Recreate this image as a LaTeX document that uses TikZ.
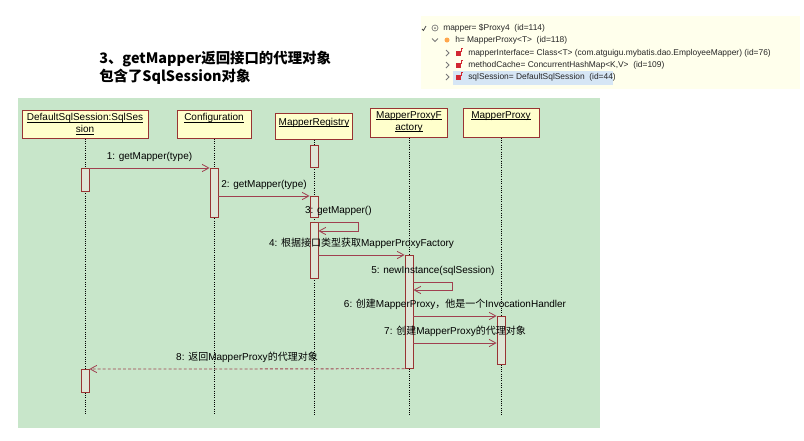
\documentclass[tikz,border=0pt]{standalone}
\usepackage{fontspec}
\setmainfont{Liberation Sans}
\newfontfamily\cjk{Noto Sans CJK SC}
\usetikzlibrary{positioning}
\usetikzlibrary{arrows.meta, calc}

\definecolor{panelgreen}{RGB}{200,230,202}
\definecolor{boxfill}{RGB}{255,255,204}
\definecolor{boxline}{RGB}{153,51,51}
\definecolor{msgline}{RGB}{160,64,80}
\definecolor{actfill}{RGB}{222,230,214}
\definecolor{debugbg}{RGB}{255,255,236}
\definecolor{selrow}{RGB}{214,230,245}
\definecolor{fieldred}{RGB}{210,40,50}
\definecolor{chevgray}{RGB}{120,120,120}

\newcommand{\zh}[1]{{\cjk #1}}
% underline set just under the baseline
\newcommand{\hdul}[1]{\setbox0\hbox{#1}\leavevmode\rlap{\rule[-1.1pt]{\wd0}{0.45pt}}\box0}
\def\pxl{0.75pt}

\begin{document}
\begin{tikzpicture}
  [
    x=0.75pt, y=-0.75pt,
    >={Straight Barb[length=5pt,width=5.5pt]},
    head/.style     = {draw=boxline, fill=boxfill, line width=0.7pt, anchor=north, inner sep=0pt},
    headtext/.style = {anchor=north, yshift=-2.5pt, inner sep=0pt, align=center},
    life/.style     = {densely dotted, line width=0.7pt},
    act/.style      = {draw=boxline, fill=actfill, line width=0.6pt, anchor=north, minimum width=8*\pxl, inner sep=0pt},
    msg/.style      = {->, draw=msgline, line width=0.6pt},
    ret/.style      = {msg, dashed, dash pattern=on 2.2pt off 1.6pt},
    lbl/.style      = {above=4.5pt, inner sep=0pt, text=black},
    dbg/.style      = {anchor=west, inner sep=0pt, font=\fontsize{6.3}{7}\selectfont, text=black!85},
    ttl/.style      = {anchor=base west, inner sep=0pt, font=\cjk\bfseries\fontsize{10.8}{13}\selectfont},
  ]

  \tikzstyle{every node}=[font=\fontsize{7.5}{9}\selectfont]

  \fill[white] (0,0) rectangle (804,440);
  \useasboundingbox (0,0) rectangle (804,440);

  % the lifelines
  \def\xsess{85}
  \def\xconf{214}
  \def\xreg{314}
  \def\xfac{409}
  \def\xprox{501}

  % title
  \node (title1) [ttl] at (99,63) {3、getMapper返回接口的代理对象};
  \node (title2) [ttl] at (99,81) {包含了SqlSession对象};

  % debugger view
  \fill[debugbg] (421,16) rectangle (800,89);
  \fill[selrow] (453,71) rectangle (613,85);

  \draw[black!70, line width=0.6pt] (422,29) -- (423.5,30.5) -- (426,26);
  \draw[chevgray, line width=0.5pt] (435,28) circle (3);
  \fill[chevgray] (435,28) circle (1);
  \draw[chevgray, line width=0.6pt] (432,38.5) -- (435,41.5) -- (438,38.5);
  \fill[orange!70] (447,40) circle (2.5);
  \foreach \y in {53,65,77}
  {
    \draw[chevgray, line width=0.6pt] (446,\y-3) -- (449,\y) -- (446,\y+3);
    \fill[fieldred] (456,\y-2) rectangle (461,\y+3);
    \draw[fieldred, line width=0.4pt] (461,\y-1) -- (461,\y-5) -- (463,\y-5);
  }

  \node (row1) [dbg] at (443,28) {mapper= \$Proxy4\ \ (id=114)};
  \node (row2) [dbg] at (455,40) {h= MapperProxy<T>\ \ (id=118)};
  \node (row3) [dbg] at (468,53) {mapperInterface= Class<T> (com.atguigu.mybatis.dao.EmployeeMapper) (id=76)};
  \node (row4) [dbg] at (468,65) {methodCache= ConcurrentHashMap<K,V>\ \ (id=109)};
  \node (row5) [dbg] at (468,77) {sqlSession= DefaultSqlSession\ \ (id=44)};

  % the sequence diagram
  \fill[panelgreen] (18,98) rectangle (600,428);

  \node (sess) [head, minimum width=126*\pxl, minimum height=28*\pxl,
    label={[headtext]north:\hdul{DefaultSqlSession:SqlSes}\\\hdul{sion}}] at (\xsess,110) {};
  \node (conf) [head, minimum width=74*\pxl, minimum height=28*\pxl,
    label={[headtext]north:\hdul{Configuration}}] at (\xconf,110) {};
  \node (reg) [head, minimum width=77*\pxl, minimum height=26*\pxl,
    label={[headtext, yshift=-1pt]north:\hdul{MapperRegistry}}] at (\xreg,113) {};
  \node (fac) [head, minimum width=77*\pxl, minimum height=29*\pxl,
    label={[headtext]north:\hdul{MapperProxyF}\\\hdul{actory}}] at (\xfac,108) {};
  \node (prox) [head, minimum width=76*\pxl, minimum height=29*\pxl,
    label={[headtext]north:\hdul{MapperProxy}}] at (\xprox,108) {};

  \coordinate (bottom) at (0,415);
  \foreach \h in {sess,conf,reg,fac,prox}
    \draw[life] (\h.south) -- (\h |- bottom);

  % activations
  \node (sessA) [act, minimum height=23*\pxl] at (\xsess,168) {};
  \node (sessB) [act, minimum height=23*\pxl] at (\xsess,369) {};
  \node (confA) [act, minimum height=49*\pxl] at (\xconf,168) {};
  \node (regA) [act, minimum height=22*\pxl] at (\xreg,145) {};
  \node (regB) [act, minimum height=21*\pxl] at (\xreg,196) {};
  \node (regC) [act, minimum height=56*\pxl] at (\xreg,222) {};
  \node (facA) [act, minimum height=113*\pxl] at (\xfac,255) {};
  \node (proxA) [act, minimum height=48*\pxl] at (\xprox,316) {};

  % messages
  \draw[msg] (sessA.north east) -- node[lbl] {1: getMapper(type)} (confA.north west);
  \draw[msg] (confA.east |- regB.north) -- node[lbl] {2: getMapper(type)} (regB.north west);

  \coordinate (loop3) at ($(regC.north east)+(40,9)$);
  \draw[msg] (regC.north east) -| node[lbl, pos=0.25] {3: getMapper()} (loop3) -- (regC.east |- loop3);

  \draw[msg] (regC.east |- facA.north) -- node[lbl] {4: \zh{根据接口类型获取}MapperProxyFactory} (facA.north west);

  \coordinate (loop5a) at ($(facA.north east)+(0,27)$);
  \coordinate (loop5b) at ($(facA.north east)+(39,35)$);
  \draw[msg] (loop5a) -| node[lbl, pos=0.25] {5: newInstance(sqlSession)} (loop5b) -- (facA.east |- loop5b);

  \draw[msg] (facA.east |- proxA.north) -- node[lbl] {6: \zh{创建}MapperProxy\zh{，他是一个}InvocationHandler} (proxA.north west);

  \coordinate (m7) at ($(proxA.north west)+(0,27)$);
  \draw[msg] (facA.east |- m7) -- node[lbl] {7: \zh{创建}MapperProxy\zh{的代理对象}} (m7);

  \draw[ret] (facA.south west) -- node[lbl] {8: \zh{返回}MapperProxy\zh{的代理对象}} (sessB.north east);

\end{tikzpicture}
\end{document}
